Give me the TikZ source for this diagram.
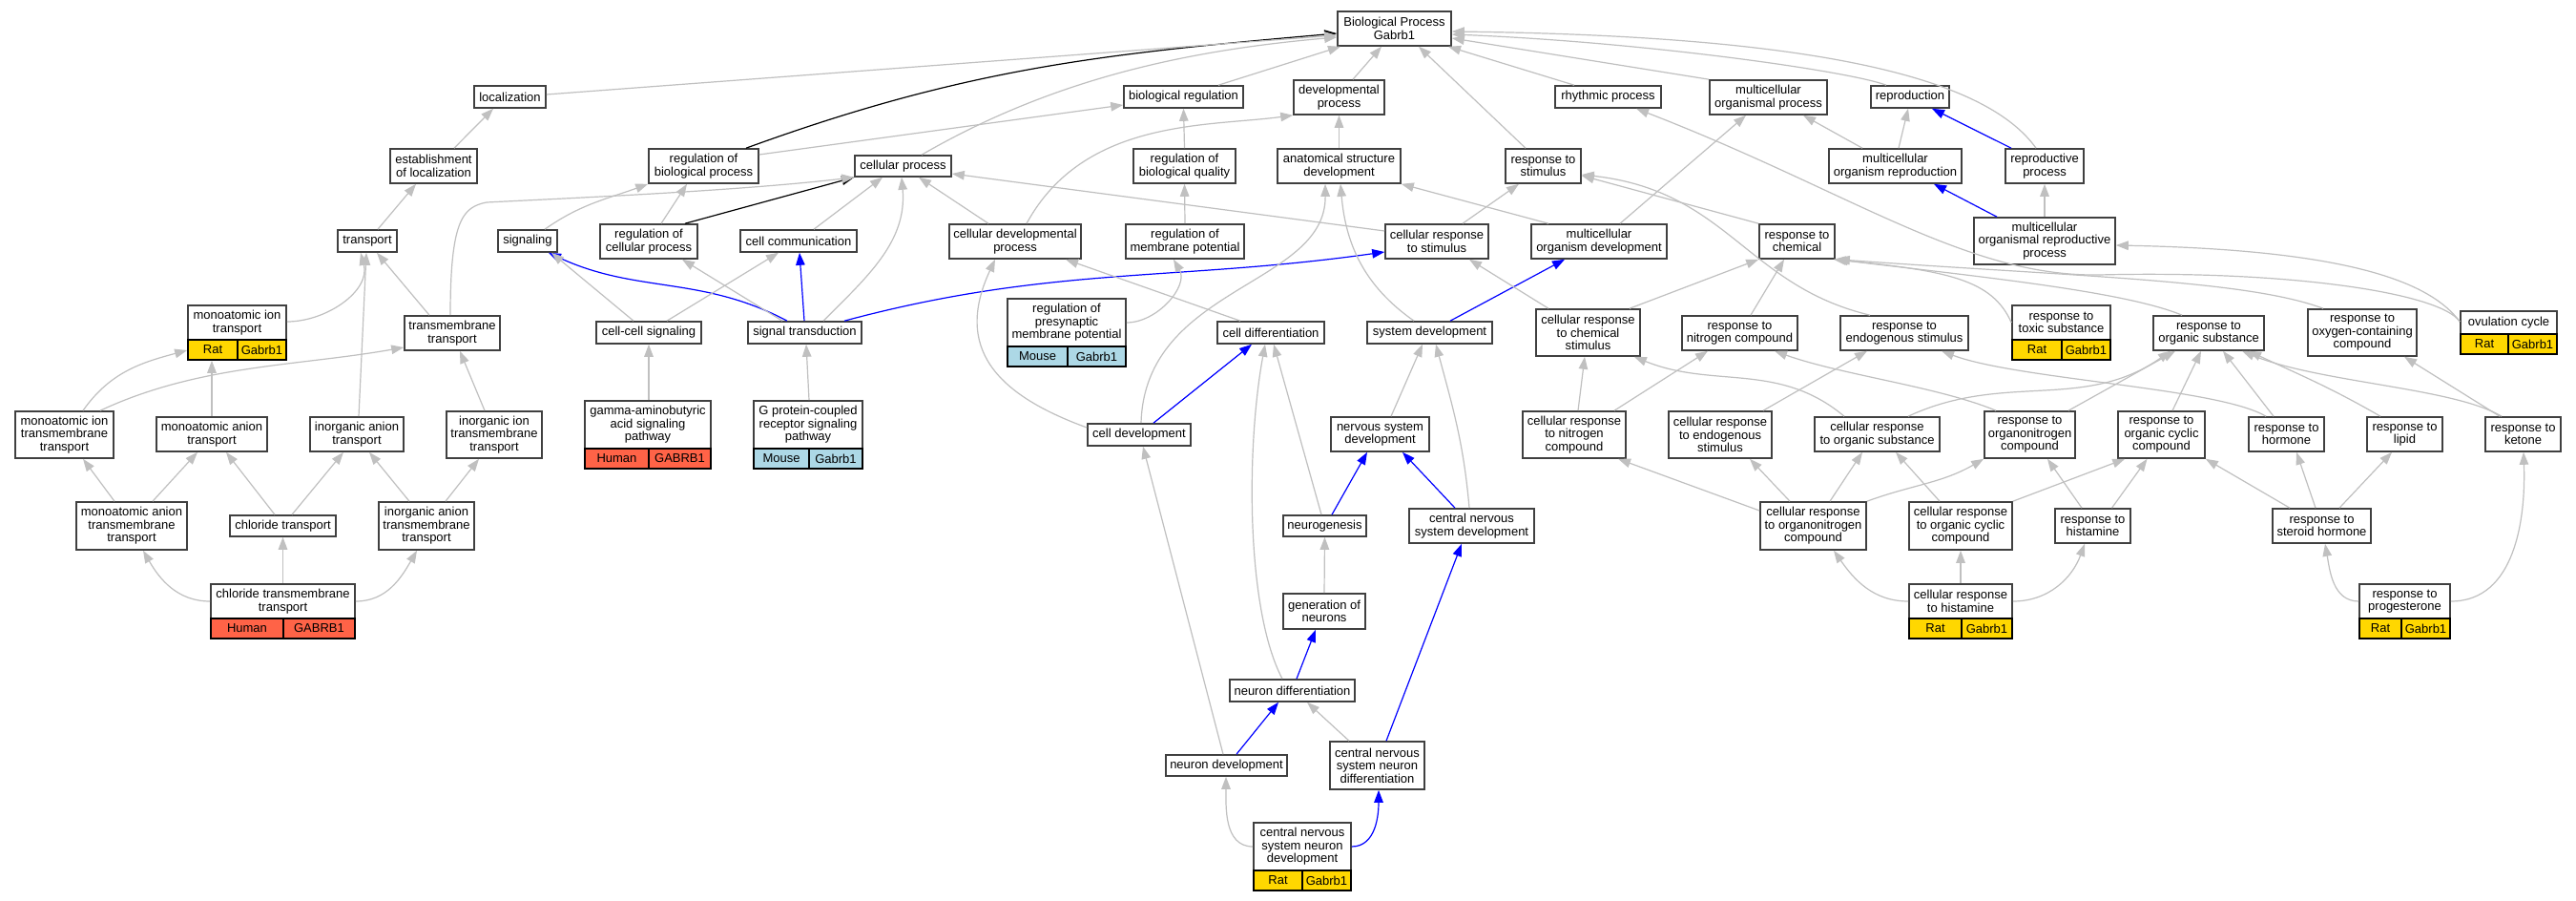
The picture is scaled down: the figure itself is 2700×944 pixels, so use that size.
\documentclass[tikz,border=0pt]{standalone}
\usepackage{fontspec}
\setmainfont{Liberation Sans}
\usetikzlibrary{arrows.meta}
\definecolor{edgegray}{RGB}{192,192,192}
\definecolor{bordc}{RGB}{64,64,64}
\definecolor{ratc}{RGB}{255,215,0}
\definecolor{humc}{RGB}{255,99,71}
\definecolor{mouc}{RGB}{173,216,230}
\newcommand\lab{\fontsize{13}{13.5}\selectfont}
\tikzset{
 gobox/.style={draw=bordc, line width=1.6pt, fill=white, inner sep=0pt, align=center, font=\lab},
 golbl/.style={inner sep=0pt, align=center, font=\lab},
 gocell/.style={draw=black, line width=1.4pt, inner sep=0pt, font=\lab},
 edg/.style={draw=edgegray, line width=1.2pt, -{Triangle[length=13pt,width=9.5pt]}},
 edb/.style={draw=blue, line width=1.2pt, -{Triangle[length=13pt,width=9.5pt]}},
 edk/.style={draw=black, line width=1.2pt, -{Triangle[length=13pt,width=9.5pt]}},
}
\newcommand\bx[6]{\node[gobox, minimum width={#3-#2}, minimum height={#5-#4}] (#1) at ({(#2+#3)/2},{-(#4+#5)/2}) {#6};}
\newcommand\recbase[9]{%
 \node[gobox, minimum width={#3-#2}, minimum height={#5-#4}] (#1) at ({(#2+#3)/2},{-(#4+#5)/2}) {};
 \node[golbl] (#1-t) at ({(#2+#3)/2},{-(#4+#5-21)/2}) {#7};
 \node[gocell, fill=\reccol, minimum width={#6-#2}, minimum height=21] (#1-a) at ({(#2+#6)/2},{-(#5-10.5)}) {#8};
 \node[gocell, fill=\reccol, minimum width={#3-#6}, minimum height=21] (#1-b) at ({(#6+#3)/2},{-(#5-10.5)}) {#9};
}
\newcommand\recR[7]{\def\reccol{ratc}\recbase{#1}{#2}{#3}{#4}{#5}{#6}{#7}{Rat}{Gabrb1}}
\newcommand\recM[7]{\def\reccol{mouc}\recbase{#1}{#2}{#3}{#4}{#5}{#6}{#7}{Mouse}{Gabrb1}}
\newcommand\recH[7]{\def\reccol{humc}\recbase{#1}{#2}{#3}{#4}{#5}{#6}{#7}{Human}{GABRB1}}
\begin{document}
\begin{tikzpicture}[x=1pt,y=1pt]
\path[use as bounding box, fill=white] (0,0) rectangle (2700,-944);
% ---------- nodes ----------
\bx{BP}{1402}{1521}{12}{48}{Biological Process\\Gabrb1}
\bx{loc}{497}{572}{90}{113}{localization}
\bx{breg}{1178}{1303}{90}{113}{biological regulation}
\bx{devp}{1356}{1451}{84}{120}{developmental\\process}
\bx{rhy}{1630}{1741}{90}{113}{rhythmic process}
\bx{mop}{1792}{1915}{84}{120}{multicellular\\organismal process}
\bx{rep}{1961}{2043}{90}{113}{reproduction}
\bx{estl}{409}{500}{156}{192}{establishment\\of localization}
\bx{rbp}{680}{795}{156}{192}{regulation of\\biological process}
\bx{cp}{896}{997}{163}{185}{cellular process}
\bx{rbq}{1188}{1295}{156}{192}{regulation of\\biological quality}
\bx{asd}{1339}{1468}{156}{192}{anatomical structure\\development}
\bx{rst}{1578}{1657}{156}{192}{response to\\stimulus}
\bx{mor}{1917}{2056}{156}{192}{multicellular\\organism reproduction}
\bx{rpp}{2102}{2184}{156}{192}{reproductive\\process}
\bx{tr}{354}{416}{241}{264}{transport}
\bx{sig}{522}{584}{241}{264}{signaling}
\bx{rcp}{629}{731}{235}{271}{regulation of\\cellular process}
\bx{cc}{776}{898}{241}{264}{cell communication}
\bx{cdp}{995}{1133}{235}{271}{cellular developmental\\process}
\bx{rmp}{1180}{1304}{235}{271}{regulation of\\membrane potential}
\bx{crs}{1452}{1560}{235}{271}{cellular response\\to stimulus}
\bx{mod}{1605}{1747}{235}{271}{multicellular\\organism development}
\bx{rch}{1844}{1923}{235}{271}{response to\\chemical}
\bx{morp}{2069}{2217}{228}{277}{multicellular\\organismal reproductive\\process}
\recR{mit}{197}{300}{320}{377}{249}{monoatomic ion\\transport}
\bx{tmt}{424}{524}{331}{367}{transmembrane\\transport}
\bx{ccs}{625}{735}{337}{360}{cell-cell signaling}
\bx{st}{784}{903}{337}{360}{signal transduction}
\recM{rpmp}{1056}{1180}{313}{384}{1119}{regulation of\\presynaptic\\membrane potential}
\bx{cd}{1276}{1388}{337}{360}{cell differentiation}
\bx{sd}{1433}{1564}{337}{360}{system development}
\bx{crcs}{1610}{1719}{324}{373}{cellular response\\to chemical\\stimulus}
\bx{rnc}{1763}{1884}{331}{367}{response to\\nitrogen compound}
\bx{res}{1929}{2063}{331}{367}{response to\\endogenous stimulus}
\recR{rts}{2109}{2212}{320}{377}{2161}{response to\\toxic substance}
\bx{ros}{2257}{2373}{331}{367}{response to\\organic substance}
\bx{roc}{2419}{2533}{324}{373}{response to\\oxygen-containing\\compound}
\recR{ovc}{2579}{2680}{326}{371}{2629}{ovulation cycle}
\bx{mitt}{16}{119}{431}{480}{monoatomic ion\\transmembrane\\transport}
\bx{mat}{164}{280}{437}{473}{monoatomic anion\\transport}
\bx{iat}{325}{423}{437}{473}{inorganic anion\\transport}
\bx{iitt}{468}{568}{431}{480}{inorganic ion\\transmembrane\\transport}
\recH{gaba}{613}{745}{420}{491}{680}{gamma-aminobutyric\\acid signaling\\pathway}
\recM{gpcr}{790}{904}{420}{491}{848}{G protein-coupled\\receptor signaling\\pathway}
\bx{cdev}{1140}{1248}{444}{467}{cell development}
\bx{nsd}{1395}{1498}{437}{473}{nervous system\\development}
\bx{crnc}{1596}{1704}{431}{480}{cellular response\\to nitrogen\\compound}
\bx{cres}{1749}{1857}{431}{480}{cellular response\\to endogenous\\stimulus}
\bx{cros}{1902}{2033}{437}{473}{cellular response\\to organic substance}
\bx{ronc}{2080}{2175}{431}{480}{response to\\organonitrogen\\compound}
\bx{rocc}{2220}{2311}{431}{480}{response to\\organic cyclic\\compound}
\bx{rho}{2357}{2436}{437}{473}{response to\\hormone}
\bx{rli}{2481}{2560}{437}{473}{response to\\lipid}
\bx{rke}{2605}{2684}{437}{473}{response to\\ketone}
\bx{matt}{80}{196}{526}{576}{monoatomic anion\\transmembrane\\transport}
\bx{clt}{241}{352}{540}{562}{chloride transport}
\bx{iatt}{397}{497}{526}{576}{inorganic anion\\transmembrane\\transport}
\bx{ngen}{1345}{1432}{540}{562}{neurogenesis}
\bx{cnsd}{1477}{1608}{533}{569}{central nervous\\system development}
\bx{crnoc}{1845}{1956}{526}{576}{cellular response\\to organonitrogen\\compound}
\bx{crocc}{2001}{2109}{526}{576}{cellular response\\to organic cyclic\\compound}
\bx{rhi}{2154}{2233}{533}{569}{response to\\histamine}
\bx{rsh}{2382}{2485}{533}{569}{response to\\steroid hormone}
\recH{ctt}{221}{372}{612}{669}{297}{chloride transmembrane\\transport}
\bx{gon}{1345}{1431}{622}{659}{generation of\\neurons}
\recR{crh}{2001}{2109}{612}{669}{2056}{cellular response\\to histamine}
\recR{rpg}{2473}{2568}{612}{669}{2517}{response to\\progesterone}
\bx{nd}{1289}{1420}{712}{735}{neuron differentiation}
\bx{ndev}{1222}{1349}{791}{813}{neuron development}
\bx{cnsnd}{1394}{1493}{777}{827}{central nervous\\system neuron\\differentiation}
\recR{cnsndev}{1314}{1416}{862}{933}{1365}{central nervous\\system neuron\\development}
\coordinate (wtm) at (510,-212);
\coordinate (wov) at (2200,-288);
% ---------- black edges ----------
\draw[edk] ([xshift=44.5]rbp.north) to[out=20,in=185] ([yshift=-5]BP.west);
\draw[edk] ([xshift=38]rcp.north) -- (cp.south west);
% ---------- left cluster ----------
\draw[edg] ([xshift=21.5]estl.north) -- ([xshift=-17.5]loc.south);
\draw[edg] ([xshift=11]tr.north) -- ([xshift=-18.5]estl.south);
\draw[edg] ([yshift=11.5]mit.east) to[out=0,in=-75] ([xshift=-7]tr.south);
\draw[edg] ([xshift=-24]tmt.north) -- ([xshift=10]tr.south);
\draw[edg] ([xshift=19.5]mitt.north) to[out=55,in=195] ([yshift=-18.5]mit.west);
\draw[edg] ([xshift=37.5]mitt.north) to[out=25,in=190,looseness=0.9] ([yshift=-15]tmt.west);
\draw[edg] (mat.north) -- ([xshift=-26.5]mit.south);
\draw[edg] ([xshift=2]iat.north) -- ([xshift=-1]tr.south);
\draw[edg] ([xshift=-10]iitt.north) -- ([xshift=8]tmt.south);
\draw[edg] ([xshift=-2]tmt.north) .. controls +(0,100) and +(-25,-5) .. (wtm) .. controls +(100,5) and +(-120,-14) .. (cp.south west);
\draw[edg] ([xshift=-18]matt.north) -- ([xshift=19.5]mitt.south);
\draw[edg] ([xshift=22]matt.north) -- ([xshift=-15]mat.south);
\draw[edg] ([xshift=-8.5]clt.north) -- ([xshift=15]mat.south);
\draw[edg] ([xshift=9.5]clt.north) -- ([xshift=-14]iat.south);
\draw[edg] ([xshift=-18]iatt.north) -- ([xshift=13]iat.south);
\draw[edg] ([xshift=20]iatt.north) -- ([xshift=-16]iitt.south);
\draw[edg] ([yshift=10.5]ctt.west) to[out=180,in=-60] ([xshift=12]matt.south);
\draw[edg] (ctt.north) -- (clt.south);
\draw[edg] ([yshift=10.5]ctt.east) to[out=0,in=-120] ([xshift=-10]iatt.south);
% ---------- middle ----------
\draw[edg] ([yshift=2.5]loc.east) -- ([yshift=-7]BP.west);
\draw[edg] ([xshift=19.5]cp.north) to[out=30,in=185,looseness=0.9] ([yshift=-9]BP.west);
\draw[edg] ([yshift=12]rbp.east) -- ([yshift=-8.5]breg.west);
\draw[edg] ([xshift=13]rcp.north) -- ([xshift=-17.5]rbp.south);
\draw[edg] ([xshift=18]sig.north) to[out=35,in=200] (rbp.south west);
\draw[edb] ([xshift=-18.5]st.north) to[out=152,in=-25] ([xshift=22]sig.south);
\draw[edg] ([xshift=-23.5]st.north) -- ([xshift=35]rcp.south);
\draw[edb] ([xshift=-0.5]st.north) -- ([xshift=1]cc.south);
\draw[edg] ([xshift=19.5]st.north) to[out=45,in=-85] ([xshift=-1.5]cp.south);
\draw[edb] ([xshift=41.5]st.north) to[out=15,in=188] ([yshift=-11]crs.west);
\draw[edg] ([xshift=-16]ccs.north) -- ([xshift=25]sig.south);
\draw[edg] ([xshift=19]ccs.north) -- ([xshift=-21]cc.south);
\draw[edg] ([xshift=1]gaba.north) -- (ccs.south);
\draw[edg] ([xshift=1]gpcr.north) -- ([xshift=1.5]st.south);
\draw[edg] ([xshift=16]cc.north) -- ([xshift=-21.5]cp.south);
\draw[edg] ([xshift=-28]cdp.north) -- ([xshift=16.5]cp.south);
\draw[edg] ([xshift=12]cdp.north) .. controls +(60,110) and +(-90,-12) .. (devp.south west);
\draw[edg] ([xshift=-32]cd.north) -- ([xshift=53]cdp.south);
\draw[edg] ([yshift=10.5]rpmp.east) to[out=0,in=-60] ([xshift=-12]rmp.south);
\draw[edg] (rmp.north) -- (rbq.south);
\draw[edg] (rbq.north) -- (breg.south);
\draw[edg] ([xshift=36.5]breg.north) -- ([xshift=-56.5]BP.south);
\draw[edg] ([xshift=14.5]devp.north) -- ([xshift=-13.5]BP.south);
\draw[edg] (asd.north) -- (devp.south);
\draw[edg] ([xshift=-18.5]rst.north) -- ([xshift=25.5]BP.south);
\draw[edg] ([xshift=-35.5]rhy.north) -- ([xshift=56.5]BP.south);
\draw[edg] ([xshift=2]cdev.north) .. controls +(4,144) and +(1,-107) .. ([xshift=-14.5]asd.south);
\draw[edg] ([yshift=7.5]cdev.west) to[out=160,in=-115,looseness=1.3] ([xshift=-21]cdp.south);
\draw[edb] ([xshift=15]cdev.north) -- ([xshift=-20]cd.south);
\draw[edg] ([xshift=-3.5]ndev.north) -- ([xshift=4]cdev.south);
\draw[edb] ([xshift=10.5]ndev.north) -- ([xshift=-14.5]nd.south);
\draw[edg] ([xshift=-10.5]nd.north) .. controls +(-38,72) and +(-20,-108) .. ([xshift=-6]cd.south);
\draw[edb] ([xshift=4.5]nd.north) -- ([xshift=-9]gon.south);
\draw[edg] ([xshift=-3.5]ngen.north) -- ([xshift=3]cd.south);
\draw[edb] ([xshift=7.5]ngen.north) -- ([xshift=-13.5]nsd.south);
\draw[edg] (gon.north) -- (ngen.south);
\draw[edb] ([xshift=-17.5]cnsd.north) -- ([xshift=23.5]nsd.south);
\draw[edg] ([xshift=-2.5]cnsd.north) to[out=95,in=-75] ([xshift=6.5]sd.south);
\draw[edg] ([xshift=11.5]nsd.north) -- ([xshift=-7.5]sd.south);
\draw[edg] ([xshift=-29.5]cnsnd.north) -- ([xshift=15.5]nd.south);
\draw[edb] ([xshift=9.5]cnsnd.north) -- ([xshift=-10.5]cnsd.south);
\draw[edg] ([yshift=10.5]cnsndev.west) to[out=180,in=-90] ([xshift=-0.5]ndev.south);
\draw[edb] ([yshift=10.5]cnsndev.east) to[out=0,in=-90] ([xshift=1.5]cnsnd.south);
\draw[edb] ([xshift=21.5]sd.north) -- ([xshift=-36]mod.south);
\draw[edg] ([xshift=-16.5]sd.north) to[out=145,in=-85] ([xshift=1.5]asd.south);
\draw[edg] ([xshift=22]mod.north) -- ([xshift=-23.5]mop.south);
\draw[edg] ([xshift=-53]mod.north) -- (asd.south east);
\draw[edg] ([xshift=27]crs.north) -- ([xshift=-25.5]rst.south);
\draw[edg] ([yshift=11]crs.west) -- ([yshift=-8]cp.east);
\draw[edg] ([xshift=3.5]mor.north) -- ([xshift=-2]rep.south);
\draw[edg] ([xshift=-34.5]mor.north) -- ([xshift=36.5]mop.south);
\draw[edb] ([xshift=-35]rpp.north) -- ([xshift=23]rep.south);
\draw[edg] ([xshift=-9]rpp.north) .. controls +(-50,70) and +(400,-5) .. ([yshift=-3]BP.east);
\draw[edg] ([xshift=-25]rep.north) .. controls +(-40,15) and +(200,-8) .. ([yshift=-6]BP.east);
\draw[edg] (mop.north west) -- ([yshift=-10]BP.east);
\draw[edb] ([xshift=-50]morp.north) -- ([xshift=40.5]mor.south);
\draw[edg] (morp.north) -- (rpp.south);
\draw[edg] ([yshift=11.5]ovc.west) .. controls +(-30,40) and +(250,-5) .. ([yshift=-4.5]morp.east);
\draw[edg] ([yshift=11.5]ovc.west) .. controls +(-20,30) and +(200,5) .. (wov) .. controls +(-140,-2) and +(225,-87) .. ([xshift=29.5]rhy.south);
% ---------- right cluster ----------
\draw[edg] (rch.north west) -- ([yshift=-10]rst.east);
\draw[edg] ([xshift=-36]res.north) .. controls +(-130,31) and +(153,-17) .. ([yshift=-9]rst.east);
\draw[edg] ([xshift=-41.5]crcs.north) -- ([xshift=34]crs.south);
\draw[edg] ([xshift=43.5]crcs.north) -- (rch.south west);
\draw[edg] ([xshift=11.5]rnc.north) -- ([xshift=-13.5]rch.south);
\draw[edg] ([yshift=10.5]rts.west) .. controls +(-20,45) and +(120,-12) .. ([xshift=-2]rch.south east);
\draw[edg] ([xshift=-28]ros.north) .. controls +(-60,25) and +(150,-18) .. (rch.south east);
\draw[edg] ([xshift=-41]roc.north) .. controls +(-80,30) and +(250,-18) .. ([xshift=2]rch.south east);
\draw[edg] ([xshift=4]crnc.north) -- ([xshift=-3.5]crcs.south);
\draw[edg] ([xshift=42]crnc.north) -- ([xshift=-33.5]rnc.south);
\draw[edg] ([xshift=45]cres.north) -- ([xshift=-39]res.south);
\draw[edg] ([xshift=-34.5]cros.north) to[out=140,in=-22] ([xshift=-7]crcs.south east);
\draw[edg] ([xshift=32.5]cros.north) to[out=25,in=215] ([xshift=-40]ros.south);
\draw[edg] ([xshift=40.5]ronc.north) -- ([xshift=-35]ros.south);
\draw[edg] ([xshift=-35.5]ronc.north) .. controls +(-60,25) and +(70,-25) .. ([xshift=36.5]rnc.south);
\draw[edg] ([yshift=16]crnoc.west) -- ([xshift=46]crnc.south);
\draw[edg] ([xshift=-24.5]crnoc.north) -- ([xshift=31]cres.south);
\draw[edg] ([xshift=17.5]crnoc.north) -- ([xshift=-15.5]cros.south);
\draw[edg] (crnoc.north east) to[out=20,in=-150] (ronc.south west);
\draw[edg] ([xshift=-22]crocc.north) -- ([xshift=19.5]cros.south);
\draw[edg] (crocc.north east) -- ([xshift=8]rocc.south west);
\draw[edg] ([xshift=-11.5]rhi.north) -- ([xshift=18.5]ronc.south);
\draw[edg] ([xshift=20]rhi.north) -- ([xshift=-15]rocc.south);
\draw[edg] ([yshift=10.5]crh.west) to[out=180,in=-55] ([xshift=21.5]crnoc.south);
\draw[edg] (crh.north) -- (crocc.south);
\draw[edg] ([yshift=10.5]crh.east) to[out=0,in=-110] ([xshift=-8.5]rhi.south);
\draw[edg] ([xshift=11.5]rocc.north) -- ([xshift=-8]ros.south);
\draw[edg] ([xshift=-13.5]rho.north) -- ([xshift=15]ros.south);
\draw[edg] ([xshift=-21.5]rho.north) .. controls +(-50,30) and +(80,-30) .. ([xshift=39]res.south);
\draw[edg] ([xshift=-25.5]rli.north) to[out=150,in=-25] ([xshift=42]ros.south);
\draw[edg] ([xshift=-22.5]rke.north) .. controls +(-50,30) and +(80,-33) .. ([xshift=35]ros.south);
\draw[edg] ([xshift=-24.5]rke.north) -- ([xshift=44]roc.south);
\draw[edg] ([xshift=-6.5]rsh.north) -- ([xshift=10.5]rho.south);
\draw[edg] ([xshift=18.5]rsh.north) -- ([xshift=-13.5]rli.south);
\draw[edg] ([xshift=-33.5]rsh.north) -- (rocc.south east);
\draw[edg] ([yshift=10.5]rpg.west) to[out=180,in=-80] ([xshift=3.5]rsh.south);
\draw[edg] ([yshift=10.5]rpg.east) to[out=0,in=-88] ([xshift=0.5]rke.south);
\end{tikzpicture}
\end{document}
